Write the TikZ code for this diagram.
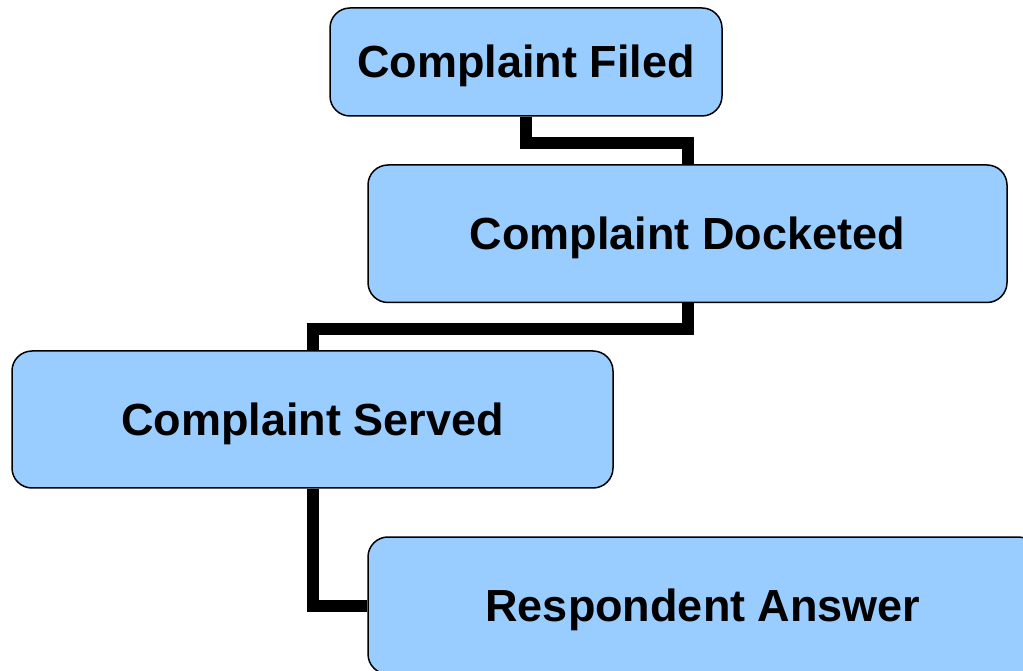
\documentclass[tikz,border=0pt]{standalone}
\usepackage{fontspec}
\setmainfont{Liberation Sans}
\definecolor{boxblue}{HTML}{99CCFF}
\begin{document}
\begin{tikzpicture}[x=1pt,y=1pt,
  stagebox/.style={draw=black, line width=1.5pt, fill=boxblue, rounded corners=20pt,
    inner sep=0pt, text height=32pt, text depth=0pt,
    font=\fontsize{45}{54}\selectfont\bfseries, align=center},
  link/.style={draw=black, line width=12pt, line join=miter}]
\clip (0,0) rectangle (1023,670);
\fill[white] (0,0) rectangle (1023,670);
\node[stagebox, minimum width=392pt, minimum height=108pt] (f) at (526,608) {Complaint Filed};
\node[stagebox, minimum width=639pt, minimum height=137.5pt] (d) at (687.5,436.25) {Complaint Docketed};
\node[stagebox, minimum width=601pt, minimum height=137pt] (s) at (312.5,250.5) {Complaint Served};
\node[stagebox, minimum width=670pt, minimum height=137pt] (r) at (703,64.5) {Respondent Answer};
\draw[link] (f.south) -- ([yshift=-26.5pt]f.south) -| (d.north);
\draw[link] (d.south) -- ([yshift=-25.3pt]d.south) -| (s.north);
\draw[link] (s.south) |- (r.west);
\end{tikzpicture}
\end{document}
